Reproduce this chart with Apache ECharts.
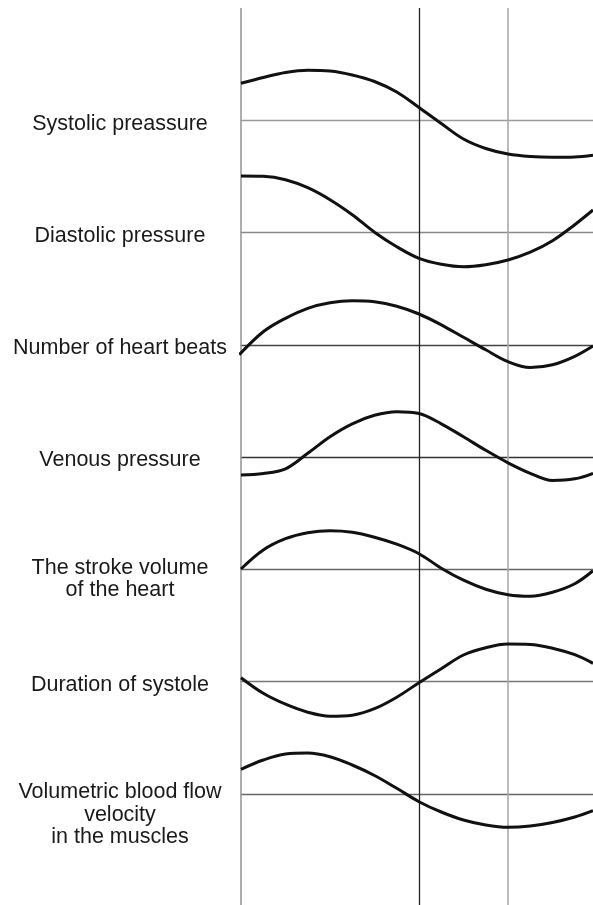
<!DOCTYPE html>
<html>
<head>
<meta charset="utf-8">
<style>html,body{margin:0;padding:0;background:#fff}#c{width:593px;height:905px}</style>
<script src="https://cdn.jsdelivr.net/npm/echarts@6/dist/echarts.min.js"></script>
</head>
<body>
<div id="c"></div>
<script>
// Row labels (left side)
const labels = [
  "Systolic preassure",
  "Diastolic pressure",
  "Number of heart beats",
  "Venous pressure",
  "The stroke volume\nof the heart",
  "Duration of systole",
  "Volumetric blood flow\nvelocity\nin the muscles"
];
// Time samples shared by the curves
const times = [0, 0.25, 0.5, 0.75, 1.0, 1.25, 1.5, 1.75, 2.0, 2.25, 2.5, 2.75, 3.0, 3.25, 3.5, 3.75, 3.955];
// Deviation of each curve from its row's baseline at those times
const systolic        = [37.2, 43.0, 48.0, 50.3, 49.5, 45.5, 39.0, 28.5, 13.0, -3.0, -18.5, -28.0, -33.5, -36.0, -36.8, -36.5, -34.8];
const diastolic       = [56.7, 56.4, 53.0, 45.0, 33.0, 18.0, 0.5, -14.0, -25.6, -31.5, -34.0, -32.0, -27.3, -19.5, -8.0, 8.0, 22.7];
const heartBeats      = [-9.5, 13.5, 27.0, 37.0, 42.5, 44.5, 43.5, 39.0, 31.3, 20.5, 8.0, -4.5, -16.4, -22.3, -19.5, -11.0, -0.7];
const venous          = [-17.7, -16.3, -11.5, 4.0, 20.6, 33.5, 42.0, 45.6, 43.8, 33.5, 20.5, 7.0, -5.5, -16.0, -23.2, -21.5, -16.0];
const strokeVolume    = [0.7, 19.7, 31.0, 37.0, 39.0, 37.5, 32.5, 25.5, 16.0, 1.5, -10.5, -19.5, -25.0, -26.5, -22.5, -14.0, -1.0];
const systoleDuration = [4.0, -11.6, -22.5, -30.5, -34.5, -33.5, -27.0, -15.5, -1.0, 13.0, 26.7, 34.0, 37.6, 37.3, 33.5, 27.0, 18.4];
const bloodFlow       = [24.7, 34.0, 40.0, 41.0, 37.3, 29.0, 18.5, 5.7, -7.7, -18.0, -26.0, -31.0, -33.3, -32.0, -28.5, -23.0, -16.7];
const curves = [systolic, diastolic, heartBeats, venous, strokeVolume, systoleDuration, bloodFlow];
// Vertical guide lines (time)
const guideLines = [0, 2, 3];
const xMax = 3.955;

// Layout/style (not data)
const baselines = [120.5, 232.7, 345.3, 457.3, 569.7, 681.7, 794];
const baseColors = ['#9a9a9a','#8a8a8a','#444','#333','#666','#777','#666'];
const guideColors = ['#9a9a9a','#222','#aaa'];
const guideWidths = [1.6, 1.3, 1.6];
const half = 60;

const grid = [{left:241, right:0, top:8, bottom:0}];
const xAxis = [{type:'value', gridIndex:0, min:0, max:xMax, show:false}];
const yAxis = [{type:'value', gridIndex:0, min:0, max:1, show:false}];
const series = [{
  type:'line', xAxisIndex:0, yAxisIndex:0, data:[], silent:true,
  markLine:{
    silent:true, symbol:['none','none'], label:{show:false},
    data: guideLines.map((g,i)=>({xAxis:g, lineStyle:{color:guideColors[i], width:guideWidths[i], type:'solid'}}))
  }
}];
curves.forEach((c,i)=>{
  const gi = i+1;
  grid.push({left:241, right:0, top:baselines[i]-half, height:2*half});
  xAxis.push({type:'value', gridIndex:gi, min:0, max:xMax,
    axisLine:{show:true, onZero:true, lineStyle:{color:baseColors[i], width:1.3}},
    axisTick:{show:false}, axisLabel:{show:false}, splitLine:{show:false}});
  yAxis.push({type:'value', gridIndex:gi, min:-half, max:half, show:false});
  series.push({type:'line', xAxisIndex:gi, yAxisIndex:gi,
    data: c.map((v,k)=>[ (i===2 && k===0) ? -0.02 : times[k], v ]),
    smooth:0.35, showSymbol:false, clip:false, silent:true,
    lineStyle:{color:'#111', width:3}, z:5});
});

const chart = echarts.init(document.getElementById('c'));
chart.setOption({animation:false, grid, xAxis, yAxis, series});

const graphic = labels.map((t,i)=>{
  const p = chart.convertToPixel({gridIndex:i+1}, [0,0]);
  const multi = t.indexOf('\n')>=0;
  return {type:'text', x:120, y:p[1] + (multi ? -13 : -8), silent:true,
    style:{text:t, fill:'#1a1a1a', font:'21.5px "Liberation Sans", Arial, sans-serif', align:'center', verticalAlign:'top', lineHeight:22.5}};
});
chart.setOption({graphic});
</script>
</body>
</html>
